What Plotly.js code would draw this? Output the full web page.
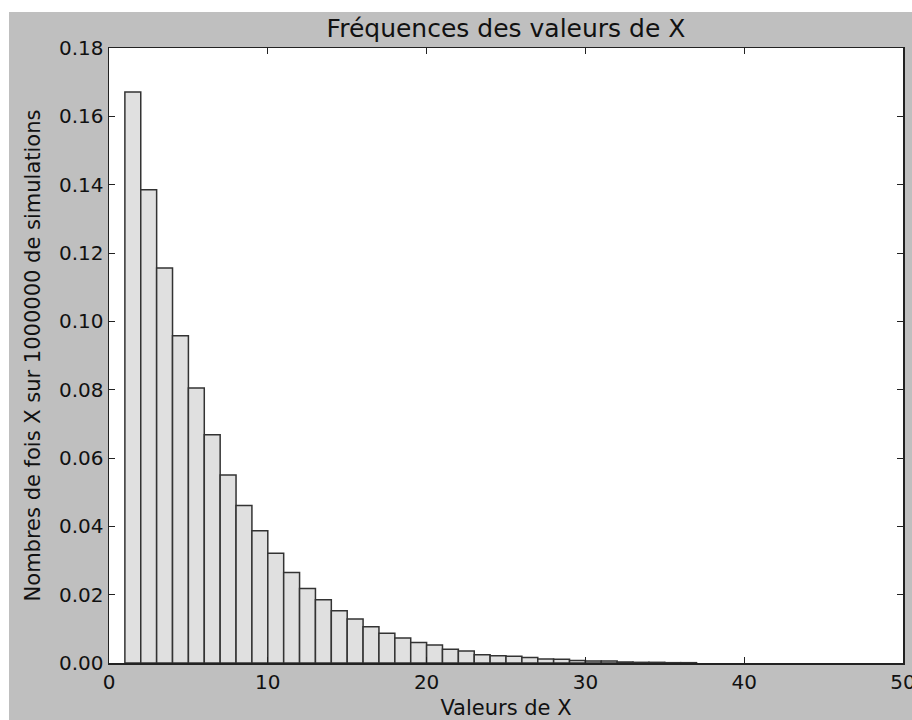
<!DOCTYPE html>
<html>
<head>
<meta charset="utf-8">
<script src="https://cdn.plot.ly/plotly-3.0.1.min.js"></script>
<style>
  html, body { margin: 0; padding: 0; background: #ffffff; width: 912px; height: 720px; overflow: hidden; }
  #chart { position: absolute; left: 9px; top: 12px; width: 903px; height: 708px; }
</style>
</head>
<body>
<div id="chart"></div>
<script>
// Left edges of the histogram bins (values of X)
const xValues = [1, 2, 3, 4, 5, 6, 7, 8, 9, 10, 11, 12, 13, 14, 15, 16, 17, 18,
                 19, 20, 21, 22, 23, 24, 25, 26, 27, 28, 29, 30, 31, 32, 33, 34, 35, 36];
// Frequencies
const frequencies = [0.1671, 0.1385, 0.1156, 0.0958, 0.0805, 0.0668, 0.0550, 0.0461,
                     0.0387, 0.0321, 0.0265, 0.0218, 0.0185, 0.0153, 0.0129, 0.0106,
                     0.0087, 0.0073, 0.0060, 0.0053, 0.0040, 0.0035, 0.0024, 0.0021,
                     0.0020, 0.0016, 0.0012, 0.0011, 0.0007, 0.0006, 0.0006, 0.0003,
                     0.0002, 0.0002, 0.0001, 0.0001];
const xTicks = [0, 10, 20, 30, 40, 50];
const yTicks = [0.00, 0.02, 0.04, 0.06, 0.08, 0.10, 0.12, 0.14, 0.16, 0.18];

const font = "DejaVu Sans, sans-serif";

const trace = {
  type: "bar",
  x: xValues,
  y: frequencies,
  width: 1,
  offset: 0,
  marker: { color: "#e0e0e0", line: { color: "#333333", width: 1.5 } },
  hoverinfo: "x+y"
};

const layout = {
  width: 903,
  height: 708,
  paper_bgcolor: "#bfbfbf",
  plot_bgcolor: "#ffffff",
  margin: { l: 100, r: 9, t: 36, b: 57, pad: 0 },
  showlegend: false,
  bargap: 0,
  font: { family: font, color: "#111111", size: 20 },
  title: {
    text: "Fréquences des valeurs de X",
    font: { family: font, size: 25, color: "#111111" },
    x: 0.5, xref: "paper",
    y: 1 - 16 / 708, yref: "container", yanchor: "middle"
  },
  xaxis: {
    range: [0, 50],
    tickvals: xTicks,
    ticktext: xTicks.map(v => String(v)),
    ticks: "inside",
    ticklen: 6,
    tickwidth: 1,
    tickcolor: "#222222",
    showline: true,
    linecolor: "#222222",
    linewidth: 1.5,
    mirror: "ticks",
    showgrid: false,
    zeroline: false,
    ticklabeloverflow: "allow",
    tickfont: { family: font, size: 20, color: "#111111" },
    automargin: false,
    title: { text: "Valeurs de X", font: { family: font, size: 21, color: "#111111" }, standoff: 8 }
  },
  yaxis: {
    range: [0, 0.18],
    tickvals: yTicks,
    ticktext: yTicks.map(v => v.toFixed(2)),
    ticks: "inside",
    ticklen: 6,
    tickwidth: 1,
    tickcolor: "#222222",
    showline: true,
    linecolor: "#222222",
    linewidth: 1.5,
    mirror: "ticks",
    showgrid: false,
    zeroline: false,
    ticklabeloverflow: "allow",
    tickfont: { family: font, size: 20, color: "#111111" },
    automargin: false,
    title: { text: "Nombres de fois X sur 1000000 de simulations", font: { family: font, size: 21, color: "#111111" }, standoff: 12 }
  }
};

Plotly.newPlot("chart", [trace], layout, { displayModeBar: false, staticPlot: true });
</script>
</body>
</html>
